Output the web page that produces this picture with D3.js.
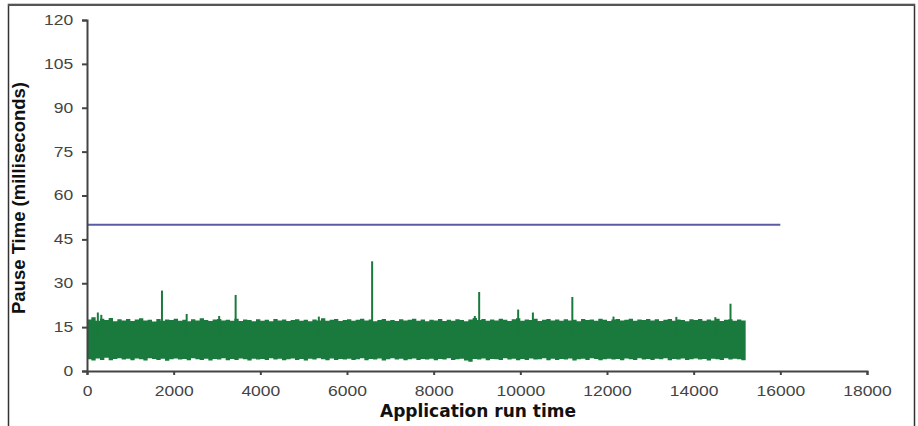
<!DOCTYPE html>
<html>
<head>
<meta charset="utf-8">
<script src="https://cdn.jsdelivr.net/npm/d3@7"></script>
<style>
  body { margin: 0; background: #fff; }
  svg { display: block; }
</style>
</head>
<body>
<script>
var w = 918, h = 426;

// x ticks and y ticks as printed on the chart
var xTicks = [0, 2000, 4000, 6000, 8000, 10000, 12000, 14000, 16000, 18000];
var yTicks = [0, 15, 30, 45, 60, 75, 90, 105, 120];

// pause target line (ms) and where it stops
var targetPause = 50;
var targetEnd = 16000;

// band of pause times, read every 100 units of run time (0 .. 15200)
var bandStep = 100;
var bandUpper = [17.6,18.4,17.2,17.9,17.4,18.1,17.0,17.7,17.3,17.8,
    17.1,17.6,18.0,17.3,17.5,16.9,17.8,17.2,17.6,17.4,
    17.9,17.2,17.5,17.0,17.7,17.3,18.0,17.4,17.1,17.6,
    17.8,17.3,17.5,17.2,17.9,17.1,17.6,17.4,17.0,17.7,
    17.2,17.5,17.0,17.8,17.3,17.6,17.1,17.4,17.7,17.2,
    17.5,17.0,17.6,17.3,18.0,17.2,17.5,17.8,17.1,17.4,
    17.7,17.2,17.5,17.9,17.3,17.6,17.0,17.4,17.8,17.2,
    17.4,17.1,17.7,17.3,17.5,17.9,17.2,17.6,17.0,17.5,
    17.3,17.8,17.1,17.5,17.2,17.7,17.4,17.0,17.6,18.1,
    17.4,17.8,17.2,17.6,17.3,17.9,17.5,17.1,17.7,18.0,
    17.2,17.6,17.4,17.9,17.1,17.5,17.8,17.3,17.6,17.2,
    17.7,17.3,17.5,17.0,17.8,17.4,17.6,17.2,17.9,17.5,
    17.1,17.6,17.8,17.3,17.5,17.9,17.2,17.6,17.4,17.8,
    17.3,17.7,17.1,17.5,17.8,17.2,17.6,17.4,17.0,17.7,
    17.4,17.8,17.2,17.6,17.3,17.9,17.1,17.5,17.7,17.2,
    17.6,17.3,17.5];
var bandLower = [4.0,3.6,4.3,3.8,4.5,3.7,4.1,4.4,3.9,4.2,
    3.7,4.3,4.0,3.6,4.4,4.1,3.8,4.2,3.5,4.0,
    4.3,3.9,4.1,3.7,4.4,4.0,3.8,4.2,3.6,4.1,
    3.9,4.4,3.7,4.1,3.8,4.3,4.0,3.6,4.2,3.9,
    4.1,3.8,4.4,3.9,4.2,3.7,4.0,4.3,3.8,4.1,
    3.6,4.2,3.9,4.4,4.0,3.7,4.3,3.8,4.1,3.9,
    4.2,3.8,4.0,4.4,3.7,4.1,3.9,4.3,3.6,4.0,
    4.4,3.9,4.2,3.7,4.0,4.3,3.8,4.1,3.9,4.2,
    3.7,4.1,3.9,4.4,3.8,4.0,4.2,3.6,3.2,4.1,
    3.9,4.3,3.7,4.1,4.0,3.8,4.4,3.9,4.2,3.7,
    4.1,3.8,4.3,3.9,4.0,4.4,3.7,4.2,3.8,4.1,
    3.9,4.3,3.6,4.0,4.2,3.8,4.4,4.1,3.7,4.0,
    4.2,3.9,4.1,3.7,4.3,4.0,3.8,4.4,3.9,4.1,
    3.8,4.2,4.0,4.4,3.7,4.1,3.9,4.3,3.8,4.0,
    4.3,3.9,4.1,3.6,4.2,4.0,3.8,4.4,3.9,4.2,
    4.0,3.7,4.1];

// isolated long pauses [run time, ms]
var spikes = [[250,20],[330,19.2],[1730,27.5],[2300,19.5],[3050,18.8],[3430,26],
    [5350,18.6],[6580,37.5],[8950,18.8],[9050,27],[9950,21],[10290,20],
    [11200,25.3],[12150,18.6],[13600,18.5],[14500,18.4],[14850,23]];

var svg = d3.select("body")
    .append("svg")
    .attr("width", w)
    .attr("height", h);

// outer frame
svg.append("rect")
    .attr("x", 8.5)
    .attr("y", 4.5)
    .attr("width", 906)
    .attr("height", 460)
    .attr("fill", "none")
    .attr("stroke", "#333")
    .attr("stroke-width", 1.5);
svg.append("line")
    .attr("x1", 8).attr("x2", 915)
    .attr("y1", 5).attr("y2", 5)
    .attr("stroke", "#555")
    .attr("stroke-width", 2);

var x = d3.scaleLinear()
    .domain([0, 18000])
    .range([87, 867]);

var y = d3.scaleLinear()
    .domain([0, 120])
    .range([371, 20]);

var green = "#1a7a3e";

// band
var band = bandUpper.map(function(u, i){
    return { t: i * bandStep, hi: u, lo: bandLower[i] };
});

var area = d3.area()
    .curve(d3.curveStepAfter)
    .x(function(d){ return x(d.t); })
    .y0(function(d){ return y(d.lo); })
    .y1(function(d){ return y(d.hi); });

svg.append("path")
    .datum(band)
    .attr("d", area)
    .attr("fill", green);

svg.selectAll(".spike")
    .data(spikes)
    .enter()
    .append("line")
    .attr("class", "spike")
    .attr("x1", function(d){ return x(d[0]); })
    .attr("x2", function(d){ return x(d[0]); })
    .attr("y1", y(10))
    .attr("y2", function(d){ return y(d[1]); })
    .attr("stroke", green)
    .attr("stroke-width", 2);

// target line
svg.append("line")
    .attr("x1", x(0))
    .attr("x2", x(targetEnd))
    .attr("y1", y(targetPause))
    .attr("y2", y(targetPause))
    .attr("stroke", "#5b5ba6")
    .attr("stroke-width", 2);

// axes
var xAxis = d3.axisBottom(x)
    .tickValues(xTicks)
    .tickSize(4)
    .tickPadding(11)
    .tickFormat(d3.format("d"));

var yAxis = d3.axisLeft(y)
    .tickValues(yTicks)
    .tickSize(5)
    .tickPadding(6);

var gx = svg.append("g")
    .attr("transform", "translate(0," + y(0) + ")")
    .call(xAxis);

var gy = svg.append("g")
    .attr("transform", "translate(" + x(0) + ",0)")
    .call(yAxis);

[gx, gy].forEach(function(g){
    g.select(".domain").attr("stroke", "#444").attr("stroke-width", 2);
    g.selectAll(".tick line").attr("stroke", "#444").attr("stroke-width", 2);
    g.selectAll(".tick text")
        .attr("fill", "#444")
        .style("font-family", "'Liberation Sans', Arial, sans-serif")
        .style("font-size", "14px")
        .attr("transform", "scale(1.25,1)");
});

svg.append("text")
    .attr("x", 478)
    .attr("y", 417)
    .attr("text-anchor", "middle")
    .style("font-family", "'DejaVu Sans', Verdana, sans-serif")
    .style("font-size", "17px")
    .style("font-weight", "bold")
    .attr("fill", "#111")
    .text("Application run time");

svg.append("text")
    .attr("transform", "translate(25,198) rotate(-90)")
    .attr("text-anchor", "middle")
    .style("font-family", "'Liberation Sans', Arial, sans-serif")
    .style("font-size", "18.5px")
    .style("font-weight", "bold")
    .attr("fill", "#111")
    .text("Pause Time (milliseconds)");
</script>
</body>
</html>
